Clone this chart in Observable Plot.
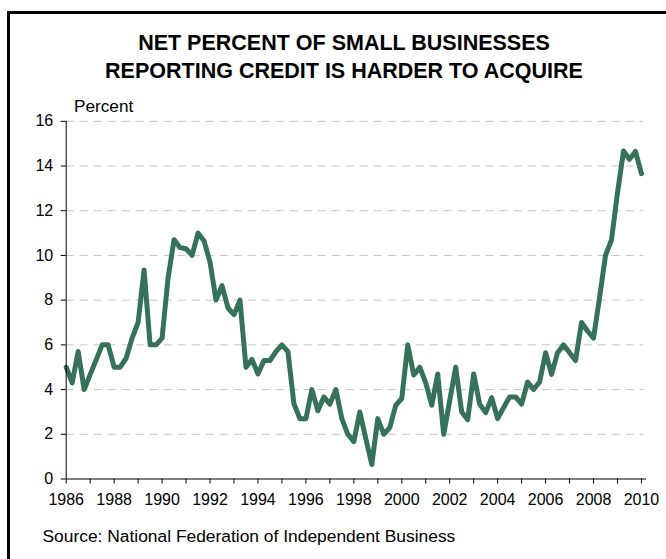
<!DOCTYPE html>
<html>
<head>
<meta charset="utf-8">
<script src="https://cdn.jsdelivr.net/npm/d3@7"></script>
<script src="https://cdn.jsdelivr.net/npm/@observablehq/plot@0.6"></script>
<style>
  body { margin: 0; background: #fff; }
  #page { position: relative; width: 666px; height: 559px; overflow: hidden; font-family: "Liberation Sans", Arial, sans-serif; color: #000; }
  #frame { position: absolute; left: 7px; top: 11px; width: 720px; height: 620px; border-left: 3px solid #000; border-top: 3px solid #000; box-sizing: border-box; }
  #title { position: absolute; left: 0; width: 688px; top: 29px; text-align: center; font-weight: bold; font-size: 21.5px; line-height: 28px; }
  #unit { position: absolute; left: 74px; top: 98.4px; font-size: 17.2px; line-height: 17px; }
  #source { position: absolute; left: 42.5px; top: 528.4px; font-size: 17.4px; line-height: 17px; white-space: nowrap; }
  #chart { position: absolute; left: 0; top: 100px; }
</style>
</head>
<body>
<div id="page">
  <div id="frame"></div>
  <div id="title">NET PERCENT OF SMALL BUSINESSES<br>REPORTING CREDIT IS HARDER TO ACQUIRE</div>
  <div id="unit">Percent</div>
  <div id="chart"></div>
  <div id="source">Source: National Federation of Independent Business</div>
</div>
<script>
// Quarterly series, 1986 Q1 through 2010 Q1
const startYear = 1986;
const netPercent = [
  5.0, 4.3, 5.7, 4.0, 4.67, 5.33, 6.0, 6.0, 5.0, 5.0,
  5.4, 6.3, 7.0, 9.35, 6.0, 6.0, 6.3, 9.0, 10.7, 10.35,
  10.3, 10.0, 11.0, 10.65, 9.7, 8.0, 8.65, 7.65, 7.35, 8.0,
  5.0, 5.35, 4.7, 5.3, 5.3, 5.7, 6.0, 5.7, 3.37, 2.7,
  2.7, 4.0, 3.05, 3.67, 3.35, 4.0, 2.7, 2.0, 1.67, 3.0,
  1.8, 0.65, 2.7, 2.0, 2.3, 3.3, 3.6, 6.0, 4.65, 5.0,
  4.3, 3.3, 4.7, 2.0, 3.5, 5.0, 3.0, 2.65, 4.7, 3.35,
  2.97, 3.64, 2.7, 3.2, 3.67, 3.67, 3.35, 4.34, 4.0, 4.34,
  5.65, 4.68, 5.65, 6.0, 5.65, 5.3, 7.0, 6.62, 6.3, 8.1,
  10.0, 10.7, 12.8, 14.67, 14.3, 14.65, 13.66
];
const yearTicks = [1986,1987,1988,1989,1990,1991,1992,1993,1994,1995,1996,1997,1998,1999,2000,2001,2002,2003,2004,2005,2006,2007,2008,2009,2010];
const yTicks = [0, 2, 4, 6, 8, 10, 12, 14, 16];
const gridLines = [2, 4, 6, 8, 10, 12, 14, 16];

const lineColor = "#36725a";
const data = netPercent.map((v, i) => ({t: startYear + i / 4, v}));

const chart = Plot.plot({
  width: 666,
  height: 420,
  marginTop: 20.8,
  marginBottom: 41.5,
  marginLeft: 65.7,
  marginRight: 20,
  x: {domain: [1986, 2010.21], label: null},
  y: {domain: [0, 16], label: null},
  style: {fontFamily: "'Liberation Sans', Arial, sans-serif", fontSize: "16px", color: "#000", background: "transparent"},
  marks: [
    Plot.ruleY(gridLines, {x1: 1986, x2: 2010.1, stroke: "#c4c4c4", strokeDasharray: "8,6", strokeWidth: 1}),
    Plot.line(data, {x: "t", y: "v", stroke: lineColor, strokeWidth: 5, strokeLinejoin: "round", strokeLinecap: "round"}),
    Plot.ruleX([1986], {y1: 0, y2: 16, stroke: "#000", strokeWidth: 1}),
    Plot.ruleY([0], {stroke: "#000", strokeWidth: 1}),
    Plot.axisY({ticks: yTicks, tickSize: 5, tickPadding: 8, tickFormat: d => String(d), label: null, fontSize: 16}),
    Plot.axisX({ticks: yearTicks, tickSize: 5, tickPadding: 10, tickFormat: d => (d % 2 === 0 ? String(d) : ""), label: null, fontSize: 16})
  ]
});
document.getElementById("chart").appendChild(chart);
</script>
</body>
</html>
